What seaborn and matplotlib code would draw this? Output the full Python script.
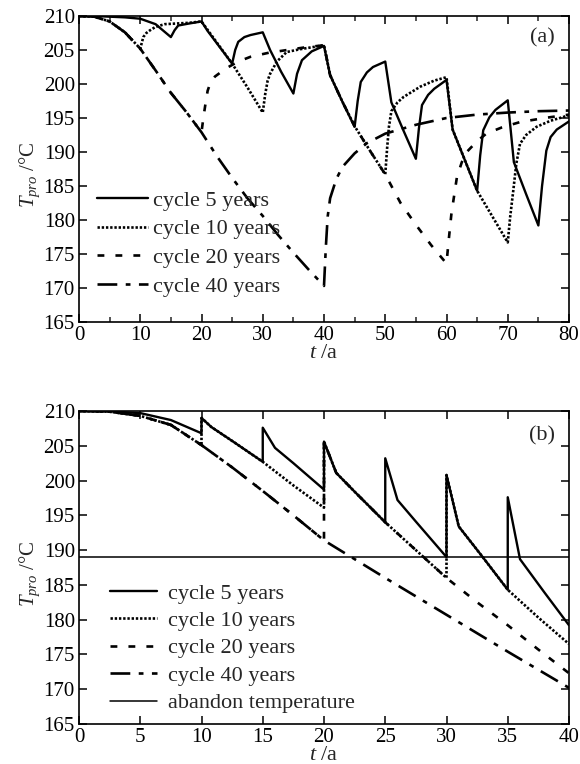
import matplotlib
matplotlib.use("Agg")
import matplotlib.pyplot as plt
import seaborn as sns
from matplotlib.ticker import MultipleLocator

# ---------------- data: panel (a) ----------------
t5_a = [0, 2.5, 5, 7.5, 10, 12.5, 15, 15.6, 16.2, 18, 20, 21, 23, 25, 25.5, 26, 27, 28, 30,
        31.2, 33, 35, 35.6, 36.4, 38, 40, 41, 43, 45, 45.5, 46, 47, 48, 50, 51, 53, 55, 55.5,
        56, 57, 58, 60, 61, 63, 65, 65.5, 66, 67, 68, 70, 71, 73, 75, 75.6, 76.3, 77, 78, 80]
T5_a = [210, 210, 209.9, 209.8, 209.6, 208.8, 206.9, 207.9, 208.6, 208.9, 209.2, 207.8, 205.4,
        203.0, 205.0, 206.2, 206.9, 207.2, 207.6, 205.0, 201.8, 198.6, 201.5, 203.5, 204.8,
        205.6, 201.3, 197.4, 193.7, 197.5, 200.3, 201.7, 202.5, 203.3, 197.3, 193.1, 189.0,
        193.5, 196.9, 198.4, 199.3, 200.6, 193.3, 188.8, 184.3, 189.5, 193.2, 195.1, 196.2,
        197.6, 188.5, 183.8, 179.2, 185.0, 190.2, 192.2, 193.3, 194.5]

t10_a = [0, 2.5, 5, 7.5, 10, 10.5, 11, 11.6, 12.5, 14, 16, 18, 20, 22.5, 25, 27.5, 30, 30.4,
         30.8, 31.2, 32.3, 33.9, 36, 38, 40, 41, 43, 45, 47.5, 50, 50.3, 50.6, 51, 52, 53,
         55.7, 58, 60, 61, 63, 65, 67.5, 70, 70.4, 70.9, 71.4, 72, 73, 74.7, 77, 80]
T10_a = [210, 209.9, 209.2, 207.6, 205.2, 206.9, 207.5, 207.9, 208.4, 208.8, 208.9, 209.0,
         209.2, 206.1, 203.0, 199.5, 195.8, 198.5, 200.5, 201.5, 203.3, 204.7, 205.1, 205.4,
         205.7, 201.3, 197.4, 193.8, 190.2, 186.7, 190.5, 193.7, 196.0, 197.3, 198.1, 199.6,
         200.5, 201.0, 193.3, 188.8, 184.3, 180.5, 176.7, 180.5, 184.3, 188.3, 191.2, 192.5,
         193.7, 194.6, 195.4]

t20_a = [0, 2.5, 5, 7.5, 10, 12.5, 15, 17.5, 20, 20.3, 20.6, 21, 21.5, 22.2, 24, 26, 28, 31,
         34, 37, 40, 41, 43, 45, 47.5, 50, 52.5, 55, 57.5, 60, 60.3, 60.8, 61.7, 62.5, 63.3,
         65, 66.5, 69, 72, 76, 80]
T20_a = [210, 209.9, 209.2, 207.6, 205.2, 202.0, 198.7, 195.9, 192.9, 195.0, 196.8, 199.0,
         200.3, 201.1, 202.3, 203.3, 204.0, 204.6, 205.0, 205.4, 205.7, 201.3, 197.4, 193.8,
         190.2, 186.7, 182.5, 179.3, 176.3, 173.6, 176.5, 180.9, 186.3, 188.5, 190.0, 191.6,
         192.7, 193.6, 194.4, 195.0, 195.5]

t40_a = [0, 2.5, 5, 7.5, 10, 12.5, 15, 17.5, 20, 22.5, 25, 27.5, 30, 32.5, 35, 37.5, 40,
         40.3, 40.6, 41, 42, 43, 45, 47, 50, 55, 60, 65, 70, 75, 80]
T40_a = [210, 209.9, 209.2, 207.6, 205.2, 202.0, 198.7, 195.9, 192.9, 189.4, 186.2, 183.2,
         180.6, 177.8, 175.2, 172.7, 170.3, 176.0, 180.5, 183.2, 186.0, 187.8, 189.8, 191.3,
         192.7, 194.0, 195.0, 195.5, 195.8, 196.0, 196.1]

# ---------------- data: panel (b) ----------------
t5_b = [0, 2.5, 5, 7.5, 10, 10, 10.8, 12.5, 15, 15, 16, 17.5, 20, 20, 21, 22.5, 25, 25, 26,
        27.5, 30, 30, 31, 33, 35, 35, 36, 38, 40]
T5_b = [210, 209.95, 209.7, 208.7, 206.8, 209.0, 207.7, 205.7, 202.7, 207.6, 204.7, 202.5,
        198.7, 205.6, 201.1, 198.4, 194.0, 203.2, 197.2, 194.1, 189.0, 200.8, 193.4, 188.9,
        184.3, 197.6, 188.7, 183.9, 179.2]

t10_b = [0, 2.5, 5, 7.5, 10, 10, 10.8, 12.5, 15, 17.5, 20, 20, 21, 22.5, 25, 27.5, 30, 30,
         31, 33, 35, 37.5, 40]
T10_b = [210, 209.9, 209.3, 208.0, 205.1, 209.0, 207.7, 205.7, 202.7, 199.3, 196.1, 205.6,
         201.1, 198.4, 194.0, 190.0, 186.0, 200.8, 193.4, 188.9, 184.3, 180.3, 176.5]

t20_b = [0, 2.5, 5, 7.5, 10, 12.5, 15, 17.5, 20, 20, 21, 22.5, 25, 27.5, 30, 32.5, 35,
         37.5, 40]
T20_b = [210, 209.9, 209.3, 208.0, 205.1, 201.9, 198.5, 195.0, 191.4, 205.6, 201.1, 198.4,
         194.0, 190.0, 186.0, 182.5, 179.2, 175.7, 172.3]

t40_b = [0, 2.5, 5, 7.5, 10, 12.5, 15, 17.5, 20, 25, 30, 35, 40]
T40_b = [210, 209.9, 209.3, 208.0, 205.1, 201.9, 198.5, 195.0, 191.4, 186.0, 180.7, 175.4,
         170.2]

abandon_temp = 189.0

labels = ["cycle 5 years", "cycle 10 years", "cycle 20 years", "cycle 40 years"]
yticks = [165, 170, 175, 180, 185, 190, 195, 200, 205, 210]

# ---------------- style ----------------
sns.set_style("ticks")
plt.rcParams["font.family"] = ["Liberation Serif", "DejaVu Serif"]
plt.rcParams["mathtext.fontset"] = "custom"
plt.rcParams["mathtext.rm"] = "Liberation Serif"
plt.rcParams["mathtext.it"] = "Liberation Serif:italic"

styles = [
    dict(linestyle="-", lw=1.7),
    dict(linestyle=(0, (0.9, 0.7)), lw=1.9),
    dict(linestyle=(0, (2.6, 4.2)), lw=1.9),
    dict(linestyle=(0, (7.5, 3.2, 1.8, 3.2)), lw=1.9),
]

fig = plt.figure(figsize=(5.8, 7.64), dpi=100)
fig.patch.set_facecolor("white")
ax1 = fig.add_axes([79 / 580, 1 - 322 / 764, 490 / 580, 306 / 764])
ax2 = fig.add_axes([79 / 580, 1 - 724 / 764, 490 / 580, 313 / 764])

series_a = [(t5_a, T5_a), (t10_a, T10_a), (t20_a, T20_a), (t40_a, T40_a)]
series_b = [(t5_b, T5_b), (t10_b, T10_b), (t20_b, T20_b), (t40_b, T40_b)]

for ax, series in ((ax1, series_a), (ax2, series_b)):
    for (tt, TT), lab, st in zip(series, labels, styles):
        sns.lineplot(x=tt, y=TT, ax=ax, estimator=None, sort=False, color="black",
                     label=lab, **st)

ax2.axhline(abandon_temp, color="black", lw=1.1, label="abandon temperature")

FS = 15
LFS = 16
for ax, xmax, xmaj, xmin, tag in ((ax1, 80, 10, 5, "(a)"), (ax2, 40, 5, None, "(b)")):
    ax.set_xlim(0, xmax)
    ax.set_ylim(165, 210)
    ax.set_yticks(yticks)
    ax.xaxis.set_major_locator(MultipleLocator(xmaj))
    if xmin:
        ax.xaxis.set_minor_locator(MultipleLocator(xmin))
    ax.tick_params(which="major", direction="in", top=True, right=True, length=6,
                   width=1.1, labelsize=FS, pad=3, colors="black")
    ax.tick_params(which="minor", direction="in", top=True, right=True, length=3.5,
                   width=1.1)
    ax.tick_params(axis="x", pad=3)
    for sp in ax.spines.values():
        sp.set_linewidth(1.2)
        sp.set_color("black")
    ax.set_xlabel(r"$t$ /a", fontsize=LFS, labelpad=-1)
    ax.set_ylabel(r"$T_{pro}$ /°C", fontsize=FS)
    ax.yaxis.set_label_coords(-0.075, 0.48)
    ax.text(0.945, 0.93 if tag == "(a)" else 0.92, tag, transform=ax.transAxes,
            fontsize=LFS, ha="center", va="center")

ax1.legend(loc="upper left", bbox_to_anchor=((97 - 79) / 490, (322 - 190) / 306),
           frameon=False, fontsize=LFS, borderpad=0, borderaxespad=0,
           handlelength=2.3, handletextpad=0.22, labelspacing=0.37)
ax2.legend(loc="upper left", bbox_to_anchor=((110 - 79) / 490, (724 - 583) / 313),
           frameon=False, fontsize=LFS, borderpad=0, borderaxespad=0,
           handlelength=2.1, handletextpad=0.5, labelspacing=0.31)

fig.savefig("out.png", dpi=100, facecolor="white")
